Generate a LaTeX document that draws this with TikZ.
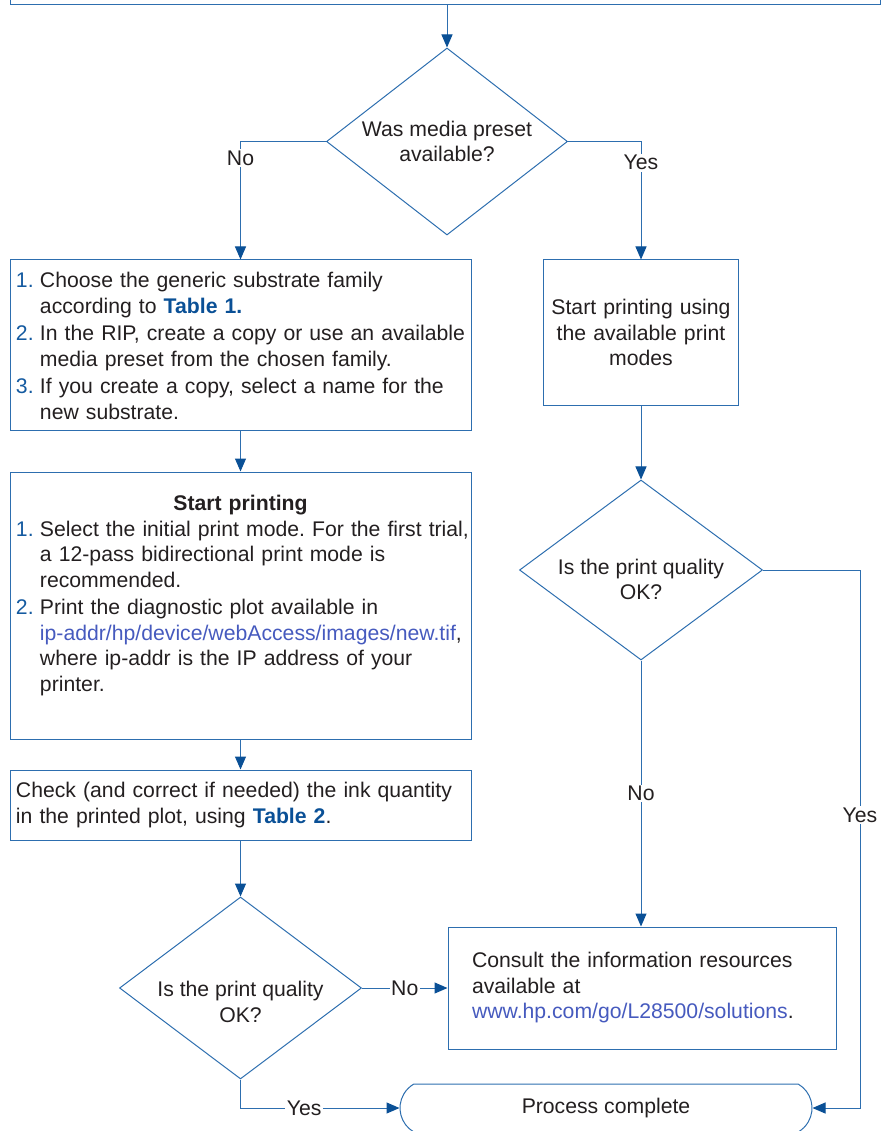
\documentclass[tikz,border=0pt]{standalone}
\usepackage{fontspec}
\setmainfont{Liberation Sans}
\usepackage{xcolor}
\usepackage{tikz}
\usetikzlibrary{arrows.meta, shapes.geometric, shapes.misc}
\definecolor{hpline}{RGB}{45,110,175}
\definecolor{hpdark}{RGB}{10,80,150}
\definecolor{hpnum}{RGB}{20,90,160}
\definecolor{hplink}{RGB}{70,90,190}
\definecolor{hptext}{RGB}{35,31,32}
\frenchspacing
\newcommand{\numitem}[2]{\par\noindent\makebox[24pt][l]{\color{hpnum}#1}\begin{tabular}[t]{@{}l@{}}#2\end{tabular}\par\vspace{1pt}}
\newcommand{\tabref}[1]{\textcolor{hpdark}{\textbf{#1}}}
% question text sitting a little below the middle of its diamond
\newcommand{\lowtext}[2]{\raisebox{#1}[0pt][0pt]{\begin{tabular}{@{}c@{}}#2\end{tabular}}}

\begin{document}
\begin{tikzpicture}[x=1pt, y=-1pt,
    stepbox/.style={draw=hpline, line width=1pt, text=hptext, font=\fontsize{21.2}{25.5}\selectfont, inner xsep=6pt, inner ysep=0pt},
    choice/.style={diamond, draw=hpline, line width=1pt, text=hptext, font=\fontsize{21.2}{25.5}\selectfont, align=center, inner sep=0pt, shape aspect=1.3},
    endbox/.style={rounded rectangle, rounded rectangle arc length=120, draw=hpline, line width=1pt, text=hptext, font=\fontsize{21.2}{25.5}\selectfont, inner sep=0pt},
    flow/.style={-{Triangle[length=13pt, width=11pt, color=hpdark]}, line width=1pt, hpline},
    flowtag/.style={fill=white, inner sep=1.5pt, text=hptext, font=\fontsize{21.2}{25.5}\selectfont}
  ]
    \useasboundingbox (0,0) rectangle (881,1131);

    \node[stepbox, minimum width=870pt, minimum height=50pt] (prev) at (445,-20) {};

    \node[choice, minimum width=241pt, minimum height=187pt] (d1) at (447,141.5) {Was media preset\\available?};

    \node[stepbox, text width=449pt, align=left, minimum height=170pt] (b1) at (240.5,345) {%
      \numitem{1.}{Choose the generic substrate family\\according to \tabref{Table 1.}}%
      \numitem{2.}{In the RIP, create a copy or use an available\\media preset from the chosen family.}%
      \numitem{3.}{If you create a copy, select a name for the\\new substrate.}};
    \node[stepbox, text width=183pt, align=center, minimum height=145pt] (b2) at (641,332.5) {Start printing using\\the available print\\modes};

    \node[stepbox, text width=449pt, align=left, minimum height=267pt] (b3) at (240.5,605.5) {%
      \centerline{\textbf{Start printing}}%
      \numitem{1.}{Select the initial print mode. For the first trial,\\a 12-pass bidirectional print mode is\\recommended.}%
      \numitem{2.}{Print the diagnostic plot available in\\\textcolor{hplink}{ip-addr/hp/device/webAccess/images/new.tif},\\where ip-addr is the IP address of your\\printer.}%
      \vspace{16pt}};
    \node[stepbox, text width=449pt, align=left, minimum height=70pt] (b4) at (240.5,805) {Check (and correct if needed) the ink quantity\\in the printed plot, using \tabref{Table 2}.};

    \node[choice, minimum width=243pt, minimum height=180pt] (d2) at (641,570) {\lowtext{-17pt}{Is the print quality\\OK?}};
    \node[choice, minimum width=242pt, minimum height=182pt] (d3) at (240.5,988) {\lowtext{-21.5pt}{Is the print quality\\OK?}};

    \node[stepbox, text width=340pt, align=left, inner xsep=24pt, minimum height=122pt] (b5) at (642,988) {Consult the information resources\\available at\\\textcolor{hplink}{www.hp.com/go/L28500/solutions}.};

    \node[endbox, minimum width=412pt, minimum height=48pt] (term) at (606,1108) {Process complete};
    \coordinate (yesbend) at (860,570);

    \draw[flow] (d1.north |- prev.south) -- (d1.north);
    \draw[flow] (d1.west) -| node[flowtag, pos=0.57] {No} (b1.north);
    \draw[flow] (d1.east) -| node[flowtag, pos=0.59] {Yes} (b2.north);
    \draw[flow] (b1) -- (b3);
    \draw[flow] (b3) -- (b4);
    \draw[flow] (b4) -- (d3);
    \draw[flow] (b2) -- (d2);
    \draw[flow] (d2.south) -- node[flowtag] {No} (d2.south |- b5.north);
    \draw[flow] (d3) -- node[flowtag] {No} (b5);
    \draw[flow] (d3.south) |- node[flowtag, pos=0.7] {Yes} (term.west);
    \draw[flow] (d2.east) -- (yesbend) |- node[flowtag, pos=0.228] {Yes} (term.east);
  \end{tikzpicture}
\end{document}
